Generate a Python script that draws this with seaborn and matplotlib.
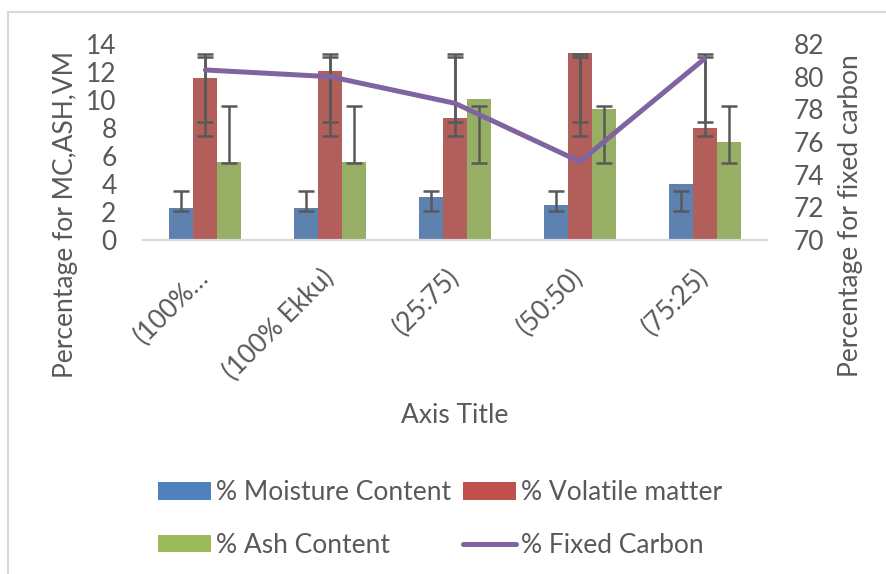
import numpy as np
import pandas as pd
import matplotlib
matplotlib.use("Agg")
import matplotlib.pyplot as plt
from matplotlib.patches import Patch, Rectangle
from matplotlib.lines import Line2D
import seaborn as sns

categories = ["(100%\u2026", "(100% Ekku)", "(25:75)", "(50:50)", "(75:25)"]
moisture = [2.27, 2.27, 3.1, 2.52, 4.0]
volatile = [11.6, 12.05, 8.69, 13.38, 8.02]
ash = [5.58, 5.58, 10.05, 9.36, 7.02]
fixed_carbon = [80.41, 80.0, 78.37, 74.8, 81.1]

# error bar ranges (low, high) as drawn in the source chart
moisture_err_low = [2.1, 2.1, 2.1, 2.1, 2.1]
moisture_err_high = [3.52, 3.52, 3.52, 3.52, 3.52]
volatile_err_low_a = [8.45, 8.45, 8.45, 8.45, 8.45]
volatile_err_high_a = [13.3, 13.3, 13.3, 13.3, 13.3]
volatile_err_low_b = [7.43, 7.43, 7.43, 7.43, 7.43]
volatile_err_high_b = [13.09, 13.09, 13.09, 13.09, 13.09]
ash_err_low = [5.52, 5.52, 5.52, 5.52, 5.52]
ash_err_high = [9.6, 9.6, 9.6, 9.6, 9.6]

series_names = ["% Moisture Content", "% Volatile matter", "% Ash Content"]
line_name = "% Fixed Carbon"
left_ticks = [0, 2, 4, 6, 8, 10, 12, 14]
right_ticks = [70, 72, 74, 76, 78, 80, 82]

colors = ["#4F81BD", "#C0504D", "#9BBB59"]
line_color = "#8064A2"
text_color = "#595959"

sns.set_theme(style="white")
plt.rcParams["font.family"] = ["Lato", "DejaVu Sans"]

df = pd.DataFrame({
    "cat": categories * 3,
    "val": moisture + volatile + ash,
    "series": [series_names[0]] * 5 + [series_names[1]] * 5 + [series_names[2]] * 5,
})

W, H = 887, 574
fig = plt.figure(figsize=(W / 100, H / 100), dpi=100)
ax = fig.add_axes([143 / W, 1 - 240 / H, (767 - 143) / W, (240 - 44) / H])

sns.barplot(data=df, x="cat", y="val", hue="series", palette=colors,
            width=0.577, gap=0, ax=ax, legend=False, edgecolor="none",
            linewidth=0, errorbar=None)

ax.set_xlim(-0.5, 4.5)
ax.set_ylim(0, 14)
ax.set_yticks(left_ticks)

# error bars at bar centres
err_sets = [
    (0, moisture_err_low, moisture_err_high),
    (1, volatile_err_low_a, volatile_err_high_a),
    (1, volatile_err_low_b, volatile_err_high_b),
    (2, ash_err_low, ash_err_high),
]
for idx, lo, hi in err_sets:
    cont = ax.containers[idx]
    xs = [p.get_x() + p.get_width() / 2 for p in cont.patches]
    lo = np.array(lo); hi = np.array(hi)
    ax.errorbar(xs, (lo + hi) / 2, yerr=(hi - lo) / 2, fmt="none",
                ecolor="#595959", elinewidth=1.8, capsize=6, capthick=1.8,
                zorder=5)

ax2 = ax.twinx()
sns.lineplot(x=np.arange(5), y=fixed_carbon, ax=ax2, color=line_color,
             linewidth=3.6, zorder=6)
ax2.set_ylim(70, 82)
ax2.set_yticks(right_ticks)
ax2.set_xlim(-0.5, 4.5)

for a in (ax, ax2):
    for s in a.spines.values():
        s.set_visible(False)
ax.spines["bottom"].set_visible(True)
ax.spines["bottom"].set_color("#D9D9D9")
ax.spines["bottom"].set_linewidth(1.6)

fs = 19
ax.tick_params(axis="y", length=0, pad=19, labelsize=fs, labelcolor=text_color)
ax2.tick_params(axis="y", length=0, pad=19, labelsize=fs, labelcolor=text_color)
ax.tick_params(axis="x", length=0, pad=24, labelsize=fs, labelcolor=text_color)
ax.set_xticks(range(5))
ax.set_xticklabels(categories, rotation=45, ha="right", va="center",
                   rotation_mode="anchor")

ax.set_xlabel("Axis Title", fontsize=fs, color=text_color)
ax.xaxis.set_label_coords((455 - 143) / 624, -(403 - 240) / 196)
ax.set_ylabel("Percentage for MC,ASH,VM", fontsize=fs, color=text_color)
ax.yaxis.set_label_coords((78 - 143) / 624, (240 - 215) / 196)
ax2.set_ylabel("Percentage for fixed carbon", fontsize=fs, color=text_color)
ax2.yaxis.set_label_coords((838 - 143) / 624, (240 - 216) / 196)

handles = [
    Patch(facecolor=colors[0], edgecolor="none", label=series_names[0]),
    Patch(facecolor=colors[2], edgecolor="none", label=series_names[2]),
    Patch(facecolor=colors[1], edgecolor="none", label=series_names[1]),
    Line2D([0], [0], color=line_color, linewidth=3.6, label=line_name),
]
leg = fig.legend(handles=handles, ncol=2, loc="upper left",
                 bbox_to_anchor=(158 / W, 1 - 480 / H), frameon=False,
                 fontsize=fs, handlelength=2.0, handleheight=0.65,
                 handletextpad=0.2, columnspacing=0.45, labelspacing=1.05,
                 borderpad=0, borderaxespad=0)
for t in leg.get_texts():
    t.set_color(text_color)

fig.patches.append(Rectangle((8 / W, -0.1), 1.2, 1 - 12 / H + 0.1,
                             transform=fig.transFigure, fill=False,
                             edgecolor="#D9D9D9", linewidth=1.5))

fig.savefig("out.png", dpi=100)
